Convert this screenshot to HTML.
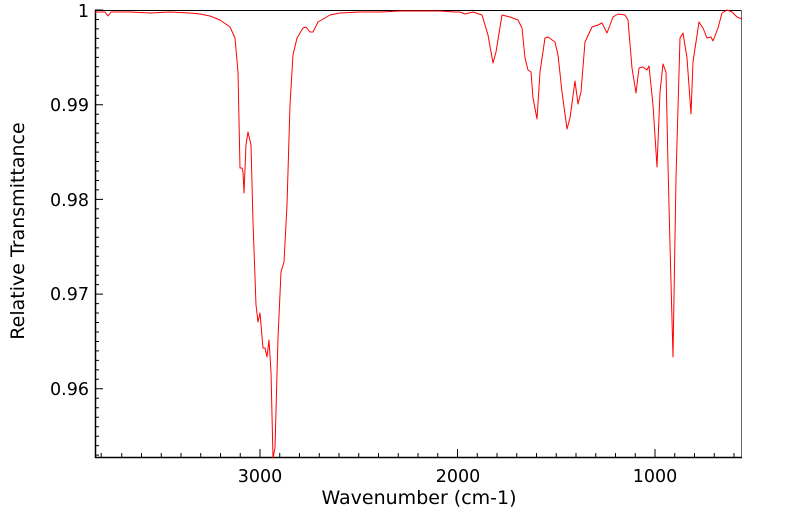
<!DOCTYPE html>
<html><head><style>body{margin:0;background:#fff}svg{display:block}text{font-family:"DejaVu Sans","Liberation Sans",sans-serif;}</style></head><body>
<svg width="799" height="516" viewBox="0 0 799 516" xmlns="http://www.w3.org/2000/svg">
<rect width="799" height="516" fill="#fff"/>
<line x1="95" y1="10.5" x2="742" y2="10.5" stroke="#000" stroke-width="1"/>
<line x1="741.5" y1="10" x2="741.5" y2="458" stroke="#666" stroke-width="1"/>
<line x1="95" y1="457.5" x2="742" y2="457.5" stroke="#000" stroke-width="1.5"/>
<line x1="95.5" y1="10" x2="95.5" y2="458" stroke="#000" stroke-width="1.5"/>
<path stroke="#000" stroke-width="1" fill="none" d="
M101.2,457v-4 M121.75,457v-4 M141.5,457v-4 M161.25,457v-4 M181,457v-4 M200.75,457v-4 M220.5,457v-4 M240.25,457v-4 M260,457v-8 M279.75,457v-4 M299.5,457v-4 M319.25,457v-4 M339,457v-4 M358.75,457v-4 M378.5,457v-4 M398.25,457v-4 M418,457v-4 M437.75,457v-4 M457.5,457v-8 M477.25,457v-4 M497,457v-4 M516.75,457v-4 M536.5,457v-4 M556.25,457v-4 M576,457v-4 M595.75,457v-4 M615.5,457v-4 M635.25,457v-4 M655,457v-8 M674.75,457v-4 M694.5,457v-4 M714.25,457v-4 M734,457v-4
M95,10h8 M95,19.5h4 M95,28.9h4 M95,38.4h4 M95,47.9h4 M95,57.4h4 M95,66.8h4 M95,76.3h4 M95,85.8h4 M95,95.2h4
M95,104.7h8 M95,114.2h4 M95,123.6h4 M95,133.1h4 M95,142.6h4 M95,152.1h4 M95,161.5h4 M95,171h4 M95,180.5h4 M95,189.9h4
M95,199.4h8 M95,208.9h4 M95,218.3h4 M95,227.8h4 M95,237.3h4 M95,246.8h4 M95,256.2h4 M95,265.7h4 M95,275.2h4 M95,284.6h4
M95,294.1h8 M95,303.6h4 M95,313h4 M95,322.5h4 M95,332h4 M95,341.5h4 M95,350.9h4 M95,360.4h4 M95,369.9h4 M95,379.3h4
M95,388.8h8 M95,398.3h4 M95,407.7h4 M95,417.2h4 M95,426.7h4 M95,436.2h4 M95,445.6h4 M95,455.1h4"/>
<polyline fill="none" stroke="#ff0000" stroke-width="1" stroke-linejoin="round" points="
95,12 105,12 108,16 111,12 130,12 150,13 170,12 190,13 200,14 210,16 220,20 230,27 235,38 238,72 240,168 242,168 243,172 244,193 246,145 248,132 251,145 253,222 256,305 258,322 260,313 263,348 265,348 267,357 269,340 271,372 273,458 275,448 278,338 281,272 284,262 287,205 290,105 293,55 297,38 303,28 306,27 310,32 313,32 318,22 330,15 340,13 360,12 380,12 400,11 420,11 440,11 455,12 460,12 465,14 473,12 482,15 488,35 493,63 496,52 502,15 510,17 518,20 522,28 525,58 528,70 531,72 533,98 537,119 540,72 545,38 548,37 555,42 558,55 562,92 567,129 570,118 575,81 578,104 581,92 585,42 592,27 598,25 602,23 607,33 613,17 618,14 625,15 628,20 632,68 636,93 639,68 643,67 647,70 649,66 653,105 657,167 660,92 663,64 666,72 668,165 670,245 673,357 676,178 680,38 683,33 687,58 691,114 693,62 699,22 703,28 707,38 711,37 713,41 718,28 722,13 727,10 732,12 737,17 742,19"/>
<g font-size="17.5" fill="#000" text-anchor="middle">
<text x="260" y="482">3000</text>
<text x="458" y="482">2000</text>
<text x="655" y="482">1000</text>
</g>
<text x="419" y="504" font-size="19" text-anchor="middle">Wavenumber (cm-1)</text>
<g font-size="17.5" fill="#000" text-anchor="end">
<text x="89" y="17">1</text>
<text x="89" y="111">0.99</text>
<text x="89" y="206">0.98</text>
<text x="89" y="300">0.97</text>
<text x="89" y="395">0.96</text>
</g>
<text x="24" y="231" font-size="19" text-anchor="middle" transform="rotate(-90 24 231)">Relative Transmittance</text>
</svg>
</body></html>
